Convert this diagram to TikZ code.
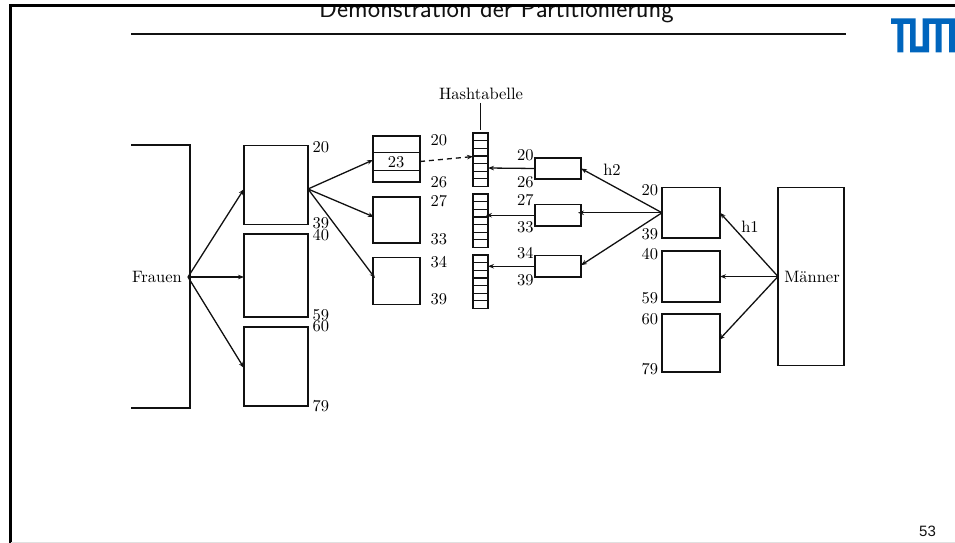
\documentclass[tikz,border=0pt]{standalone}
\usepackage{fontspec}
\usetikzlibrary{arrows.meta}
\newfontfamily\pagefont{Liberation Sans}
\newfontfamily\cmten{lmroman10-regular}[Extension=.otf]
\definecolor{tumblue}{HTML}{0065BD}
\definecolor{ink}{HTML}{111111}
\tikzset{
  bx/.style n args={2}{draw=ink,line width=1.2pt,minimum width=#1pt,minimum height=#2pt,inner sep=0pt,outer sep=0pt},
  lab/.style={inner sep=0pt,outer sep=0pt,text=black,font=\cmten\fontsize{16.5}{18}\selectfont},
  con/.style={draw=ink,line width=1.3pt,-{Stealth[length=6pt,width=4.5pt]}},
  frame/.style={draw=black,line width=2.4pt},
}
\begin{document}
\begin{tikzpicture}[x=1pt,y=-1pt]
\useasboundingbox (0,0) rectangle (955,543);
% title, cut by the top frame line
\begin{scope}
\clip (0,5) rectangle (955,543);
\node[inner sep=0pt,anchor=base,text=ink,font=\sffamily\fontsize{26.4}{28}\selectfont] (title) at (496.5,17.5) {Demonstration der Partitionierung};
\end{scope}
\draw[frame] (955,5.5) -- (10.5,5.5) -- (10.5,543);
\draw[black!12,line width=1pt] (11,542.5) -- (955,542.5);
\draw[ink,line width=1.2pt] (131,34) -- (846,34);
% logo
\fill[tumblue] (891,18.5) -- (915.7,18.5) -- (915.7,46.5) -- (922.7,46.5) -- (922.7,18.5) -- (955,18.5) -- (955,52.5) -- (949,52.5) -- (949,24) -- (941.7,24) -- (941.7,52.5) -- (935.7,52.5) -- (935.7,24) -- (929,24) -- (929,52.5) -- (910,52.5) -- (910,24) -- (903.3,24) -- (903.3,52.5) -- (897.3,52.5) -- (897.3,24) -- (891,24) -- cycle;
\node[inner sep=0pt,text=ink,font=\pagefont\fontsize{15}{17}\selectfont] (page) at (927.5,531) {53};
% Frauen
\draw[draw=ink,line width=1.2pt] (131,145) -- (190,145) -- (190,408) -- (131,408);
\node[lab,anchor=west] (frauen) at (132,277) {Frauen};
\coordinate (fsrc) at (188,277);
% left column
\node[bx={64}{79}] (l1) at (276,185) {};
\node[bx={64}{83}] (l2) at (276,275.5) {};
\node[bx={64}{79}] (l3) at (276,366.5) {};
\foreach \t/\y in {20/147,39/223,40/235,59/315,60/326,79/406}
  \node[lab,anchor=west] (ll\y) at (312.5,\y) {\t};
% middle column
\node[bx={47}{46}] (m1) at (396.5,159) {};
\node[bx={47}{46}] (m2) at (396.5,220) {};
\node[bx={47}{46.5}] (m3) at (396.5,281) {};
\draw[draw=ink,line width=1.2pt] (m1.west |- 0,152.5) -- (m1.east |- 0,152.5);
\draw[draw=ink,line width=.8pt] (m1.west |- 0,170) -- (m1.east |- 0,170);
\node[lab] (l23) at (396,162.5) {23};
\foreach \t/\y in {20/140,26/182,27/201,33/239,34/262,39/299}
  \node[lab,anchor=west] (ml\y) at (430.5,\y) {\t};
% hash tables
\foreach \n/\y in {h1/133,h2/194,h3/255}{
  \node[bx={15}{53.5},anchor=north] (\n) at (480.5,\y) {};
  \foreach \i in {1,...,6}
    \draw[draw=ink,line width=1.2pt] (\n.west |- 0,\y+7.64*\i) -- (\n.east |- 0,\y+7.64*\i);
}
\node[lab] (hash) at (481,94) {Hashtabelle};
\draw[draw=ink,line width=1.2pt] (hash.south -| h1.north) ++(0,3) -- ([yshift=3pt]h1.north);
% small boxes
\node[bx={46}{21}] (s1) at (558,168.5) {};
\node[bx={46}{21.5}] (s2) at (558,215.25) {};
\node[bx={46}{21.5}] (s3) at (558,266.25) {};
\foreach \t/\y in {20/155,26/182,27/200,33/227,34/253,39/280}
  \node[lab,anchor=east] (sl\y) at (533.5,\y) {\t};
% right column
\node[bx={58}{50.5}] (r1) at (691,212.75) {};
\node[bx={58}{51}] (r2) at (691,276.5) {};
\node[bx={58}{58}] (r3) at (691,343) {};
\foreach \t/\y in {20/190,39/234,40/254,59/298,60/319,79/369}
  \node[lab,anchor=east] (rl\y) at (658,\y) {\t};
\node[bx={66}{178}] (maenner) at (811,276.5) {};
\node[lab] (mt) at (812,277) {Männer};
\node[lab] (hone) at (750,227) {h1};
\node[lab] (htwo) at (612,170) {h2};
% connectors
\draw[con] (fsrc) -- ([yshift=-4pt]l1.west);
\draw[con] (fsrc) -- ([yshift=-1.5pt]l2.west);
\draw[con] (fsrc) -- ([yshift=-1.5pt]l3.west);
\coordinate (lsrc) at ([yshift=-4pt]l1.east);
\draw[con] (lsrc) -- ([yshift=-1pt]m1.west);
\draw[con] (lsrc) -- ([xshift=1pt,yshift=3pt]m2.west);
\draw[con] (lsrc) -- ([xshift=2pt,yshift=3pt]m3.west);
\draw[con,dash pattern=on 5pt off 4pt] ([yshift=-2.5pt]m1.east) -- ([yshift=3.2pt]h1.west);
\draw[con] (s1.west) -- ([yshift=-8.25pt]h1.east);
\draw[con] (s2.west) -- ([xshift=-2pt,yshift=5.5pt]h2.east);
\draw[con] (s3.west) -- ([yshift=15.5pt]h3.east);
\coordinate (rsrc) at (r1.west);
\draw[con] (rsrc) -- (s1.east);
\draw[con] (rsrc) -- ([xshift=-3pt,yshift=2.5pt]s2.east);
\draw[con] (rsrc) -- ([yshift=1pt]s3.east);
\coordinate (msrc) at (maenner.west);
\draw[con] (msrc) -- (r1.east);
\draw[con] (msrc) -- (r2.east);
\draw[con] (msrc) -- ([xshift=-1pt,yshift=3pt]r3.east);
\end{tikzpicture}
\end{document}
